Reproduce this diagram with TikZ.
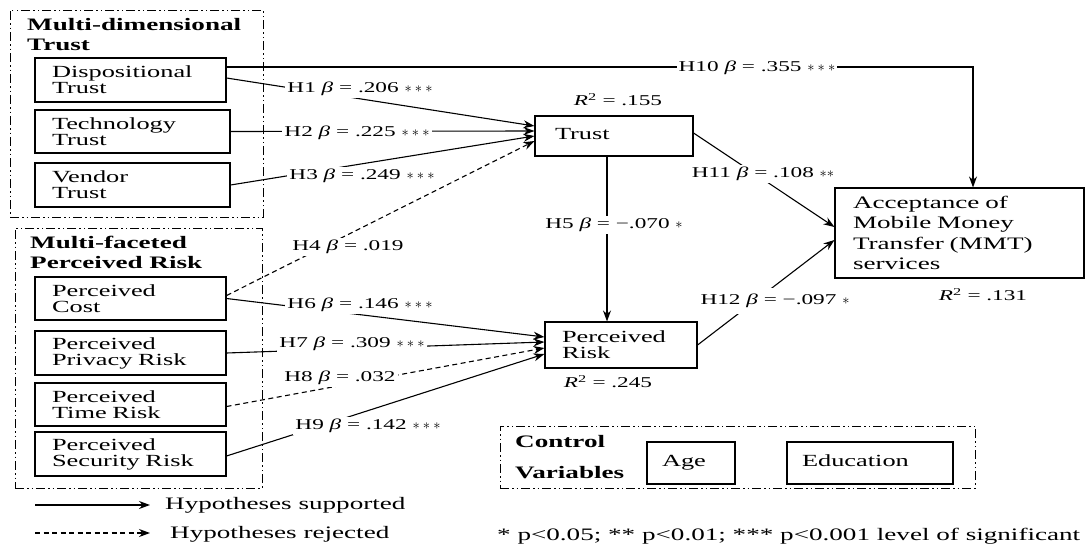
\documentclass[tikz,border=0pt]{standalone}
\usepackage{fontspec}
\setmainfont[FakeStretch=1.55]{Liberation Serif}
\usetikzlibrary{arrows.meta,calc}
\newcommand\bxf{\fontsize{17}{16}\selectfont}
\newcommand\acf{\fontsize{17.5}{20.5}\selectfont}
\newcommand\hdf{\fontsize{17.5}{20}\selectfont\bfseries}
\newcommand\lbf{\fontsize{15}{17}\selectfont}
\newcommand\txf{\fontsize{17.5}{20}\selectfont}
\newcommand\Bt{{\itshape β}}
\newcommand\Rsq{{\itshape R}\textsuperscript{2}}
\newcommand\st[1]{$#1$}
\begin{document}
\begin{tikzpicture}[x=1pt,y=-1pt,
  box/.style={draw, line width=1.1pt, inner xsep=17pt, inner ysep=0pt, align=left, font=\bxf},
  grp/.style={draw, line width=0.9pt, dash pattern=on 9pt off 3pt on 1.5pt off 3pt on 1.5pt off 3pt},
  arr/.style={line width=1.1pt, -{Stealth[length=11pt,width=8pt]}},
  rej/.style={arr, dash pattern=on 5pt off 3.5pt},
  lab/.style={fill=white, inner sep=2pt, font=\lbf},
  plain/.style={inner sep=0pt, font=\txf}]
\useasboundingbox (0,0) rectangle (1086,546);
% groups
\node[grp, minimum width=253pt, minimum height=207pt] (g1) at (136.5,113.5) {};
\node[grp, minimum width=247pt, minimum height=260pt] (g2) at (138.5,358) {};
\node[grp, minimum width=475pt, minimum height=62pt] (g3) at (737.5,457) {};
\node[anchor=north west, inner sep=0pt, align=left, font=\hdf] (h1) at (27,18) {Multi-dimensional\\Trust};
\node[anchor=north west, inner sep=0pt, align=left, font=\hdf] (h2) at (30,236) {Multi-faceted\\Perceived Risk};
\node[anchor=north west, inner sep=0pt, align=left, font=\fontsize{17.5}{31}\selectfont\bfseries] (h3) at (515,435) {Control\\Variables};
% boxes
\node[box, minimum width=191pt, minimum height=44pt, text width=157pt] (disp) at (130.5,80) {Dispositional\\Trust};
\node[box, minimum width=195pt, minimum height=43pt, text width=161pt] (tech) at (132.5,131.5) {Technology\\Trust};
\node[box, minimum width=195pt, minimum height=44pt, text width=161pt] (vend) at (132.5,185) {Vendor\\Trust};
\node[box, minimum width=191pt, minimum height=43pt, text width=157pt] (cost) at (130.5,298.5) {Perceived\\Cost};
\node[box, minimum width=191pt, minimum height=44pt, text width=157pt] (priv) at (130.5,353) {Perceived\\Privacy Risk};
\node[box, minimum width=191pt, minimum height=43pt, text width=157pt] (time) at (130.5,404.5) {Perceived\\Time Risk};
\node[box, minimum width=191pt, minimum height=44pt, text width=157pt] (sec) at (130.5,454) {Perceived\\Security Risk};
\node[box, inner xsep=20pt, minimum width=158pt, minimum height=40pt, text width=118pt] (trust) at (614,136) {\raisebox{4pt}{Trust}};
\node[box, minimum width=152pt, minimum height=46pt, text width=118pt] (pr) at (621,345) {Perceived\\Risk};
\node[box, font=\acf, inner xsep=18pt, minimum width=249pt, minimum height=90pt, text width=213pt] (acc) at (959.5,233) {Acceptance of\\Mobile Money\\Transfer (MMT)\\services};
\node[box, inner xsep=15pt, minimum width=88pt, minimum height=42pt, text width=58pt] (age) at (691,463) {\raisebox{5pt}{Age}};
\node[box, inner xsep=15pt, minimum width=166pt, minimum height=42pt, text width=136pt] (edu) at (870,463) {\raisebox{5pt}{Education}};
% connectors
\coordinate (h10c) at (973,67);
\draw[arr] ($(disp.east)+(0,-13)$) -- (h10c) -- (h10c |- acc.north);
\draw[arr] ($(disp.east)+(0,-2)$) -- ($(trust.west)+(0,-10)$);
\draw[arr] (tech.east) -- ($(trust.west)+(0,-5)$);
\draw[arr] (vend.east) -- (trust.west);
\draw[rej] ($(cost.east)+(0,-3)$) -- ($(trust.west)+(0,5)$);
\draw[arr] ($(trust.south)+(-7,0)$) -- ($(pr.north)+(-14,0)$);
\draw[arr] (cost.east) -- ($(pr.west)+(0,-8)$);
\draw[arr] (priv.east) -- ($(pr.west)+(0,-3)$);
\draw[rej] ($(time.east)+(0,2)$) -- ($(pr.west)+(0,3)$);
\draw[arr] ($(sec.east)+(0,2)$) -- ($(pr.west)+(0,9)$);
\draw[arr] ($(trust.east)+(0,-3)$) -- ($(acc.west)+(0,-6)$);
\draw[arr] (pr.east) -- ($(acc.west)+(0,7)$);
% labels
\node[lab] (l10) at (757,68) {H10 \Bt\ = .355 \st{\ast\ast\ast}};
\node[lab] (l1) at (360,89) {H1 \Bt\ = .206 \st{\ast\ast\ast}};
\node[lab] (l2) at (357,133) {H2 \Bt\ = .225 \st{\ast\ast\ast}};
\node[lab] (l3) at (362,176) {H3 \Bt\ = .249 \st{\ast\ast\ast}};
\node[lab] (l4) at (348,247) {H4 \Bt\ = .019};
\node[lab] (l5) at (614,225) {H5 \Bt\ = −.070 \st{\ast}};
\node[lab] (l6) at (360,305) {H6 \Bt\ = .146 \st{\ast\ast\ast}};
\node[lab] (l7) at (352,344) {H7 \Bt\ = .309 \st{\ast\ast\ast}};
\node[lab] (l8) at (340,378) {H8 \Bt\ = .032};
\node[lab] (l9) at (368,426) {H9 \Bt\ = .142 \st{\ast\ast\ast}};
\node[lab] (l11) at (763,174) {H11 \Bt\ = .108 \st{\ast\ast}};
\node[lab, inner ysep=6pt] (l12) at (775,301) {H12 \Bt\ = −.097 \st{\ast}};
\node[lab] (r1) at (618,100) {\Rsq\ = .155};
\node[lab] (r2) at (608,382) {\Rsq\ = .245};
\node[lab] (r3) at (983,295) {\Rsq\ = .131};
% legend
\coordinate (la1) at (35,505); \coordinate (lb1) at (150,505);
\coordinate (la2) at (35,533); \coordinate (lb2) at (150,533);
\draw[arr] (la1) -- (lb1);
\draw[rej] (la2) -- (lb2);
\node[plain, anchor=west] (t1) at (165,505) {Hypotheses supported};
\node[plain, anchor=west] (t2) at (170,534) {Hypotheses rejected};
\node[plain, anchor=west] (fn) at (497,536) {* p<0.05; ** p<0.01; *** p<0.001 level of significant};
\end{tikzpicture}
\end{document}
